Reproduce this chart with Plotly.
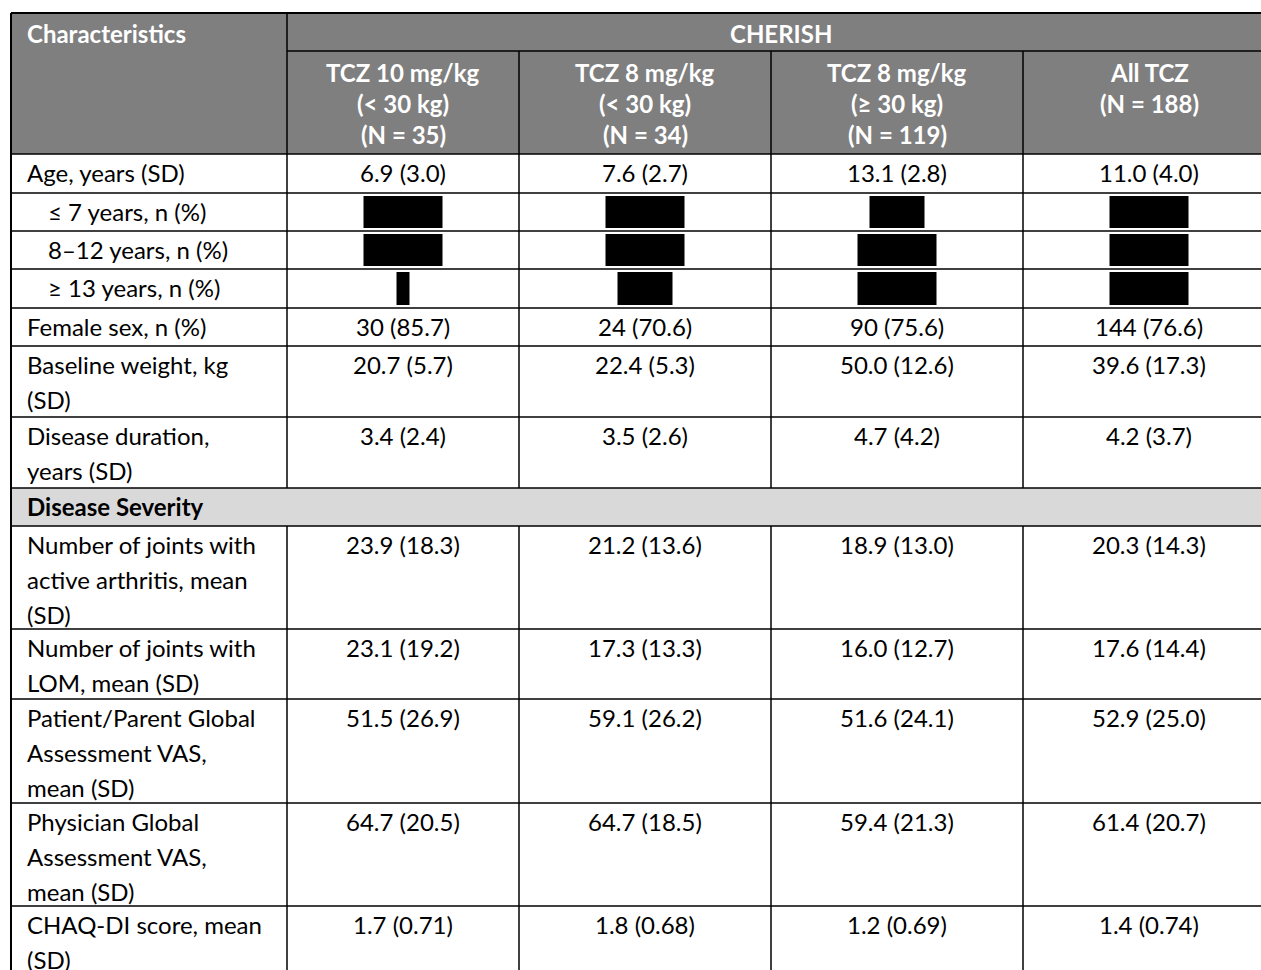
import plotly.graph_objects as go

# ---------------- data ----------------
study_name = "CHERISH"
first_header = "Characteristics"
group_headers = [
    "TCZ 10 mg/kg<br>(&lt; 30 kg)<br>(N = 35)",
    "TCZ 8 mg/kg<br>(&lt; 30 kg)<br>(N = 34)",
    "TCZ 8 mg/kg<br>(≥ 30 kg)<br>(N = 119)",
    "All TCZ<br>(N = 188)",
]
row_labels = [
    "Age, years (SD)",
    "≤ 7 years, n (%)",
    "8–12 years, n (%)",
    "≥ 13 years, n (%)",
    "Female sex, n (%)",
    "Baseline weight, kg<br>(SD)",
    "Disease duration,<br>years (SD)",
    "Disease Severity",
    "Number of joints with<br>active arthritis, mean<br>(SD)",
    "Number of joints with<br>LOM, mean (SD)",
    "Patient/Parent Global<br>Assessment VAS,<br>mean (SD)",
    "Physician Global<br>Assessment VAS,<br>mean (SD)",
    "CHAQ-DI score, mean<br>(SD)",
]
row_kind = ["main", "sub", "sub", "sub", "main", "main", "main", "section",
            "main", "main", "main", "main", "main"]

# redacted cells are given by the format of the hidden content
R2 = "[xx (xx.x)]"
R1 = "[x (x.x)]"
R0 = "[0]"
tcz10_lt30 = ["6.9 (3.0)", R2, R2, R0, "30 (85.7)", "20.7 (5.7)", "3.4 (2.4)", "",
              "23.9 (18.3)", "23.1 (19.2)", "51.5 (26.9)", "64.7 (20.5)", "1.7 (0.71)"]
tcz8_lt30 = ["7.6 (2.7)", R2, R2, R1, "24 (70.6)", "22.4 (5.3)", "3.5 (2.6)", "",
             "21.2 (13.6)", "17.3 (13.3)", "59.1 (26.2)", "64.7 (18.5)", "1.8 (0.68)"]
tcz8_ge30 = ["13.1 (2.8)", R1, R2, R2, "90 (75.6)", "50.0 (12.6)", "4.7 (4.2)", "",
             "18.9 (13.0)", "16.0 (12.7)", "51.6 (24.1)", "59.4 (21.3)", "1.2 (0.69)"]
all_tcz = ["11.0 (4.0)", R2, R2, R2, "144 (76.6)", "39.6 (17.3)", "4.2 (3.7)", "",
           "20.3 (14.3)", "17.6 (14.4)", "52.9 (25.0)", "61.4 (20.7)", "1.4 (0.74)"]
columns = [tcz10_lt30, tcz8_lt30, tcz8_ge30, all_tcz]

# ---------------- layout / style ----------------
W, H = 1261, 970
col_edges = [11, 287, 519, 771, 1023, 1275]
top = 13
header1_bottom = 51
header_bottom = 154
row_heights = [39, 38, 38, 39, 38, 71, 71, 38, 103, 70, 104, 103, 70]
redact_widths = {R2: 79, R1: 55, R0: 13}

FONT = "Lato"
FS = 24
HEADER_BG = "#7f7f7f"
SECTION_BG = "#d9d9d9"
LINE = "black"
BODY_LH = 35
HEAD_LH = 31
HEAD_OFF = 20
BODY_OFF = 18
PAD_L = 14
SUB_INDENT = 21

shapes = []
annotations = []


def rect(x0, y0, x1, y1, color, layer="below"):
    shapes.append(dict(type="rect", xref="x", yref="y", x0=x0, x1=x1, y0=y0, y1=y1,
                       fillcolor=color, line=dict(width=0), layer=layer))


def hline(y, x0, x1, w=1.5):
    shapes.append(dict(type="line", xref="x", yref="y", x0=x0, x1=x1, y0=y, y1=y,
                       line=dict(color=LINE, width=w)))


def vline(x, y0, y1, w=1.5):
    shapes.append(dict(type="line", xref="x", yref="y", x0=x, x1=x, y0=y0, y1=y1,
                       line=dict(color=LINE, width=w)))


def text_lines(txt, x, y0, lh, anchor, color="black", bold=False):
    for i, ln in enumerate(txt.split("<br>")):
        annotations.append(dict(
            x=x, y=y0 + i * lh, xref="x", yref="y", text=("<b>%s</b>" % ln) if bold else ln,
            showarrow=False, xanchor=anchor, yanchor="middle",
            font=dict(family=FONT, size=FS, color=color)))


left, right = col_edges[0], col_edges[-1]

# header background
rect(left, top, right, header_bottom, HEADER_BG)

# body row tops
row_tops = [header_bottom]
for h in row_heights:
    row_tops.append(row_tops[-1] + h)
bottom = row_tops[-1]

# section backgrounds
for i, k in enumerate(row_kind):
    if k == "section":
        rect(left, row_tops[i], right, row_tops[i + 1], SECTION_BG)

# header text
text_lines(first_header, left + PAD_L, top + HEAD_OFF, HEAD_LH, "left", "white", True)
text_lines(study_name, (col_edges[1] + col_edges[-1]) / 2, top + HEAD_OFF, HEAD_LH,
           "center", "white", True)
for j, hd in enumerate(group_headers):
    cx = (col_edges[j + 1] + col_edges[j + 2]) / 2
    text_lines(hd, cx, header1_bottom + HEAD_OFF + 1, HEAD_LH, "center", "white", True)

# body text + redactions
for i, lab in enumerate(row_labels):
    y0 = row_tops[i]
    kind = row_kind[i]
    if kind == "section":
        text_lines(lab, left + PAD_L, y0 + BODY_OFF, BODY_LH, "left", bold=True)
        continue
    xl = left + PAD_L + (SUB_INDENT if kind == "sub" else 0)
    text_lines(lab, xl, y0 + BODY_OFF, BODY_LH, "left")
    for j, col in enumerate(columns):
        v = col[i]
        cx = (col_edges[j + 1] + col_edges[j + 2]) / 2
        if v in redact_widths:
            w = redact_widths[v]
            rect(cx - w / 2, y0 + 3, cx + w / 2, row_tops[i + 1] - 3, "black", "above")
        elif v:
            text_lines(v, cx, y0 + BODY_OFF, BODY_LH, "center")

# grid lines
hline(top, left, right, 2)
hline(header1_bottom, col_edges[1], right)
hline(header_bottom, left, right)
for yy in row_tops[1:]:
    hline(yy, left, right)
vline(left, top, bottom, 2)
vline(right, top, bottom, 2)
# vertical separators, interrupted by section rows
segments = []
seg_start = top
for i, k in enumerate(row_kind):
    if k == "section":
        segments.append((seg_start, row_tops[i]))
        seg_start = row_tops[i + 1]
segments.append((seg_start, bottom))
for (a, b) in segments:
    vline(col_edges[1], a, b)
    for x in col_edges[2:-1]:
        vline(x, max(a, header1_bottom), b)

fig = go.Figure()
fig.update_layout(
    width=W, height=H, margin=dict(l=0, r=0, t=0, b=0),
    paper_bgcolor="white", plot_bgcolor="white",
    xaxis=dict(range=[0, W], visible=False, fixedrange=True),
    yaxis=dict(range=[H, 0], visible=False, fixedrange=True),
    shapes=shapes, annotations=annotations, showlegend=False,
)
fig.write_html(
    "out.html",
    config={"displayModeBar": False},
    post_script="document.body.style.margin='0';document.body.style.overflow='hidden';",
)
